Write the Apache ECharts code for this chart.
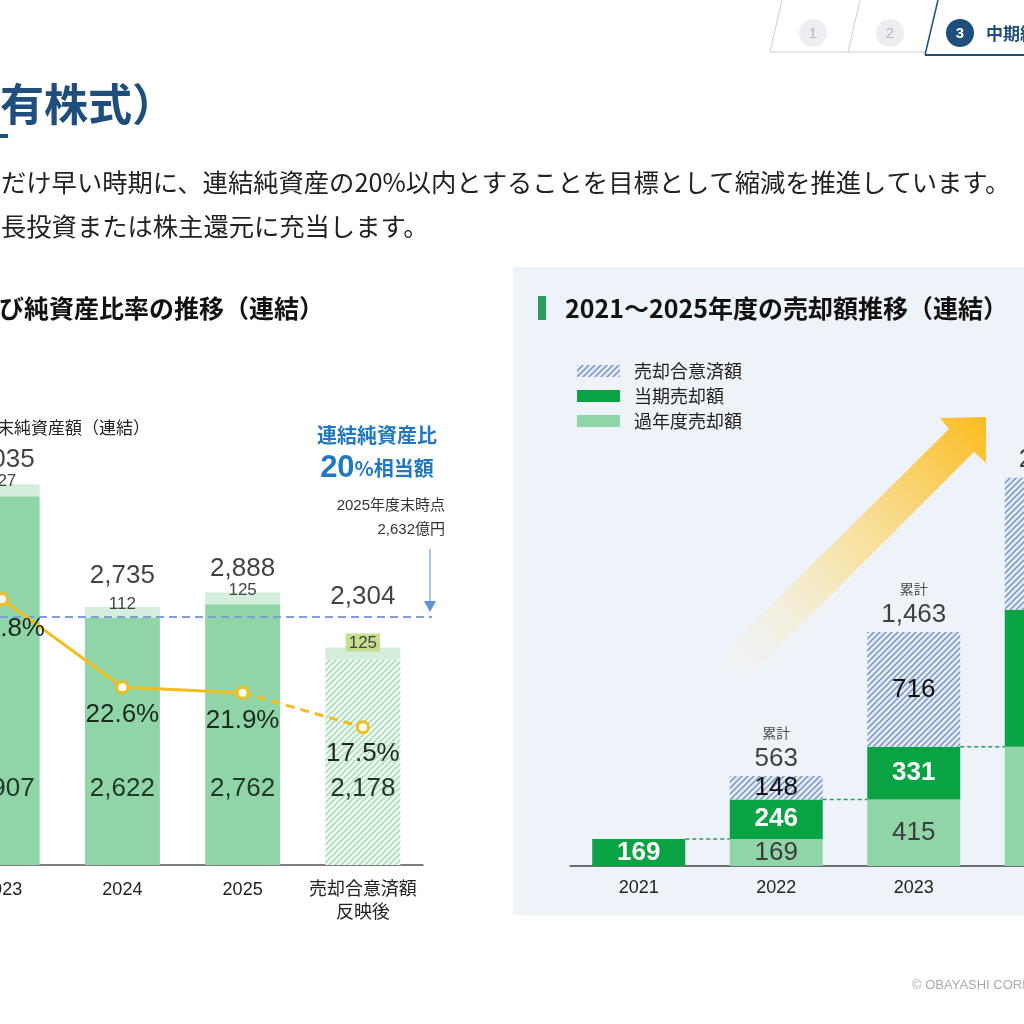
<!DOCTYPE html>
<html>
<head>
<meta charset="utf-8">
<script src="https://cdn.jsdelivr.net/npm/echarts@6/dist/echarts.min.js"></script>
</head>
<body style="margin:0;background:#fff">
<div id="container" style="width:1024px;height:1024px"></div>
<script>
// left chart: holdings (100M yen) and ratio to net assets
var leftCats = ['2023', '2024', '2025', '売却合意済額\n反映後'];
var heldBase = [3907, 2622, 2762, 2178];
var heldTop = [127, 112, 125, 125];
var heldTotal = [4035, 2735, 2888, 2304];
var ratio = [33.8, 22.6, 21.9, 17.5];
var targetLine = 2632;

// right chart: sales 2021-2025
var rightCats = ['2021', '2022', '2023', '2024', '2025'];
var pastSold = ['-', 169, 415, 746, '-'];
var currSold = [169, 246, 331, 856, '-'];
var agreed = ['-', 148, 716, 825, '-'];
var cumTotal = ['-', 563, 1463, 2427, '-'];

var NUM_FONT = "'Liberation Sans', 'Noto Sans CJK JP', sans-serif";
var JP_FONT = "'Noto Sans CJK JP', sans-serif";
var NAVY = '#1f4e7c';

function stripes(bg, fg, size, lw) {
    var c = document.createElement('canvas');
    c.width = size; c.height = size;
    var ctx = c.getContext('2d');
    ctx.fillStyle = bg;
    ctx.fillRect(0, 0, size, size);
    ctx.strokeStyle = fg;
    ctx.lineWidth = lw;
    ctx.beginPath();
    ctx.moveTo(0, size); ctx.lineTo(size, 0);
    ctx.moveTo(-size / 2, size / 2); ctx.lineTo(size / 2, -size / 2);
    ctx.moveTo(size / 2, size * 1.5); ctx.lineTo(size * 1.5, size / 2);
    ctx.stroke();
    return c;
}
var blueHatch = stripes('#e8eef8', '#7e9dcb', 6, 1.6);
var greenHatch = stripes('#f1f9f3', '#a3dbb5', 6, 1.5);

function fmt(v) {
    return Number(v).toLocaleString('en-US');
}

// running sold amount = past + current, used for the dashed connectors
var connectors = [];
for (var i = 0; i < rightCats.length - 1; i++) {
    if (currSold[i] !== '-' && pastSold[i + 1] !== '-') {
        var p = pastSold[i] === '-' ? 0 : pastSold[i];
        connectors.push([i, p + currSold[i]]);
    }
}

var totalDist = [11, 17, 10, 37];

var dom = document.getElementById('container');
var myChart = echarts.init(dom);

function txt(s, x, y, size, color, extra) {
    var st = {
        text: s, x: x, y: y, fontSize: size, fill: color, fontFamily: JP_FONT,
        verticalAlign: 'middle', textVerticalAlign: 'middle'
    };
    for (var k in extra) { st[k] = extra[k]; }
    if (st.align) { st.textAlign = st.align; }
    return { type: 'text', style: st };
}

var option = {
    backgroundColor: '#ffffff',
    animation: false,
    textStyle: { fontFamily: NUM_FONT },
    grid: [
        { left: -58, top: 393, width: 481, height: 472, outerBoundsMode: 'none', containLabel: false },
        { left: 570, top: 386, width: 687.5, height: 480, outerBoundsMode: 'none', containLabel: false }
    ],
    legend: {
        data: ['売却合意済額', '当期売却額', '過年度売却額'],
        orient: 'vertical',
        left: 572,
        top: 357,
        itemWidth: 43,
        itemHeight: 12,
        itemGap: 7,
        icon: 'rect',
        selectedMode: false,
        textStyle: { fontSize: 18, color: '#222', fontFamily: JP_FONT, padding: [0, 0, 0, 9] }
    },
    xAxis: [
        {
            type: 'category', gridIndex: 0, data: leftCats,
            axisLine: { lineStyle: { color: '#555', width: 1.5 } },
            axisTick: { show: false },
            axisLabel: { interval: 0, fontSize: 18, color: '#222', margin: 14, lineHeight: 23 }
        },
        {
            type: 'category', gridIndex: 1, data: rightCats,
            axisLine: { lineStyle: { color: '#444', width: 1.5 } },
            axisTick: { show: false },
            axisLabel: { interval: 0, fontSize: 18, color: '#222', margin: 13 }
        }
    ],
    yAxis: [
        { type: 'value', gridIndex: 0, min: 0, max: 5000, show: false },
        { type: 'value', gridIndex: 0, min: 0, max: 60, show: false },
        { type: 'value', gridIndex: 1, min: 0, max: 3000, show: false }
    ],
    series: [
        {
            type: 'bar', name: '保有額', xAxisIndex: 0, yAxisIndex: 0, stack: 'L', barWidth: 75,
            data: heldBase.map(function (v, i) {
                return i === 3 ? { value: v, itemStyle: { color: { image: greenHatch, repeat: 'repeat' } } } : v;
            }),
            itemStyle: { color: '#8fd5a8' },
            label: {
                show: true, position: 'insideBottom', distance: 63, fontSize: 26, color: '#22392a',
                formatter: function (p) { return fmt(p.value); }
            },
            markLine: {
                silent: true, symbol: 'none',
                lineStyle: { color: '#7f9fd6', width: 2, type: [8, 5] },
                label: { show: false },
                data: [[{ x: 0, yAxis: targetLine }, { x: 432, yAxis: targetLine }]]
            }
        },
        {
            type: 'bar', name: '上乗せ', xAxisIndex: 0, yAxisIndex: 0, stack: 'L', barWidth: 75,
            data: heldTop.map(function (v, i) {
                return i === 3 ? {
                    value: v,
                    label: { backgroundColor: '#c6df8c', padding: [1, 3, 0, 3], distance: -4 }
                } : v;
            }),
            itemStyle: { color: '#d3efdc' },
            label: { show: true, position: 'top', distance: -6, fontSize: 17, color: '#444' }
        },
        {
            type: 'scatter', xAxisIndex: 0, yAxisIndex: 0, symbolSize: 1,
            itemStyle: { color: 'rgba(0,0,0,0)' },
            data: heldTotal.map(function (v, i) {
                return { value: v, label: { distance: totalDist[i] } };
            }),
            label: {
                show: true, position: 'top', fontSize: 26, color: '#111',
                formatter: function (p) { return fmt(p.value); }
            },
            z: 5
        },
        {
            type: 'line', xAxisIndex: 0, yAxisIndex: 1,
            data: [{ value: ratio[0], label: { offset: [6, 2] } }, ratio[1], ratio[2], '-'],
            lineStyle: { color: '#f3bd1e', width: 3 },
            symbol: 'circle', symbolSize: 11,
            itemStyle: { color: '#fff', borderColor: '#f3bd1e', borderWidth: 3 },
            label: {
                show: true, position: 'bottom', distance: 8, fontSize: 26, color: '#1c2a20',
                formatter: function (p) { return p.value.toFixed(1) + '%'; }
            },
            z: 6
        },
        {
            type: 'line', xAxisIndex: 0, yAxisIndex: 1,
            data: ['-', '-', { value: ratio[2], label: { show: false } }, ratio[3]],
            lineStyle: { color: '#f3bd1e', width: 3, type: [9, 6] },
            symbol: 'circle', symbolSize: 11,
            itemStyle: { color: '#fff', borderColor: '#f3bd1e', borderWidth: 3 },
            label: {
                show: true, position: 'bottom', distance: 6, fontSize: 26, color: '#1c2a20',
                formatter: function (p) { return p.value.toFixed(1) + '%'; }
            },
            z: 6
        },
        {
            type: 'bar', name: '過年度売却額', xAxisIndex: 1, yAxisIndex: 2, stack: 'R', barWidth: 93,
            data: pastSold,
            itemStyle: { color: '#8fd5a8' },
            label: { show: true, position: 'inside', fontSize: 26, color: '#3d3d3d' }
        },
        {
            type: 'bar', name: '当期売却額', xAxisIndex: 1, yAxisIndex: 2, stack: 'R', barWidth: 93,
            data: currSold,
            itemStyle: { color: '#0aa344' },
            label: { show: true, position: 'inside', fontSize: 26, color: '#fff', fontWeight: 'bold' }
        },
        {
            type: 'bar', name: '売却合意済額', xAxisIndex: 1, yAxisIndex: 2, stack: 'R', barWidth: 93,
            data: agreed,
            itemStyle: { color: { image: blueHatch, repeat: 'repeat' } },
            label: { show: true, position: 'inside', fontSize: 26, color: '#111' }
        },
        {
            type: 'scatter', xAxisIndex: 1, yAxisIndex: 2, symbolSize: 1,
            itemStyle: { color: 'rgba(0,0,0,0)' },
            data: cumTotal,
            label: {
                show: true, position: 'top', distance: 3,
                formatter: function (p) { return '{s|累計}\n{n|' + fmt(p.value) + '}'; },
                rich: {
                    s: { fontSize: 14, lineHeight: 24, color: '#222', fontFamily: JP_FONT },
                    n: { fontSize: 26, lineHeight: 28, color: '#111' }
                }
            },
            z: 5
        },
        {
            type: 'custom', xAxisIndex: 1, yAxisIndex: 2,
            data: connectors,
            renderItem: function (params, api) {
                var pt = api.coord([api.value(0), api.value(1)]);
                var band = api.size([1, 0])[0];
                var half = 93 / 2;
                return {
                    type: 'line',
                    shape: { x1: pt[0] + half, y1: pt[1], x2: pt[0] + band - half, y2: pt[1] },
                    style: { stroke: '#2a9d5c', lineWidth: 1.5, lineDash: [4, 3] }
                };
            },
            z: 4
        }
    ],
    graphic: [
        // right panel background
        { type: 'rect', z: -10, shape: { x: 513, y: 267, width: 520, height: 648 }, style: { fill: '#eef3fa' } },
        // big yellow arrow
        {
            type: 'polygon', z: -5,
            shape: { points: [[940, 418], [986, 417], [986, 463], [974, 452], [745, 681], [720, 656], [949, 429]] },
            style: {
                fill: {
                    type: 'linear', x: 0, y: 1, x2: 1, y2: 0,
                    colorStops: [
                        { offset: 0, color: 'rgba(255,240,205,0)' },
                        { offset: 0.45, color: 'rgba(253,220,130,0.6)' },
                        { offset: 1, color: '#fbbb1c' }
                    ]
                }
            }
        },
        // page tabs
        { type: 'line', shape: { x1: 782, y1: 0, x2: 770, y2: 52 }, style: { stroke: '#c9ced6', lineWidth: 1 } },
        { type: 'line', shape: { x1: 860, y1: 0, x2: 848, y2: 52 }, style: { stroke: '#c9ced6', lineWidth: 1 } },
        { type: 'line', shape: { x1: 770, y1: 52, x2: 926, y2: 52 }, style: { stroke: '#c9ced6', lineWidth: 1 } },
        { type: 'line', shape: { x1: 938, y1: 0, x2: 925, y2: 55 }, style: { stroke: NAVY, lineWidth: 1.5 } },
        { type: 'line', shape: { x1: 925, y1: 55, x2: 1024, y2: 55 }, style: { stroke: NAVY, lineWidth: 2 } },
        { type: 'circle', shape: { cx: 813, cy: 33, r: 14 }, style: { fill: '#eceef2' } },
        { type: 'circle', shape: { cx: 890, cy: 33, r: 14 }, style: { fill: '#eceef2' } },
        { type: 'circle', shape: { cx: 960, cy: 33, r: 14 }, style: { fill: NAVY } },
        txt('1', 813, 34, 15, '#b5bac2', { align: 'center', fontFamily: NUM_FONT }),
        txt('2', 890, 34, 15, '#b5bac2', { align: 'center', fontFamily: NUM_FONT }),
        txt('3', 960, 34, 15, '#fff', { align: 'center', fontFamily: NUM_FONT, fontWeight: 'bold' }),
        txt('中期経営計画', 986, 34, 17, NAVY, { fontWeight: 'bold' }),
        // page title and body text
        txt('政策保有株式）', 176, 104, 44, NAVY, { align: 'right', fontWeight: 'bold' }),
        { type: 'rect', shape: { x: 0, y: 134, width: 8, height: 4 }, style: { fill: NAVY } },
        txt('だけ早い時期に、連結純資産の20%以内とすることを目標として縮減を推進しています。', 1, 182, 25.3, '#222'),
        txt('長投資または株主還元に充当します。', 1, 226, 25.3, '#222'),
        // left chart heading and notes
        txt('政策保有株式残高及び純資産比率の推移（連結）', 324, 308, 25, '#111', { align: 'right', fontWeight: 'bold' }),
        txt('（億円）', 6, 372, 17, '#222', { align: 'right' }),
        txt('年度末純資産額（連結）', 150, 428, 17, '#222', { align: 'right' }),
        txt('連結純資産比', 377, 435, 20, '#1f78c1', { align: 'center', fontWeight: 'bold' }),
        {
            type: 'text', style: {
                text: '{a|20}{b|%相当額}', x: 377, y: 468, align: 'center', verticalAlign: 'middle', textAlign: 'center', textVerticalAlign: 'middle',
                rich: {
                    a: { fontSize: 31, fontWeight: 'bold', fill: '#1f78c1', fontFamily: NUM_FONT },
                    b: { fontSize: 20, fontWeight: 'bold', fill: '#1f78c1', fontFamily: JP_FONT }
                }
            }
        },
        txt('2025年度末時点', 445, 506, 15, '#333', { align: 'right', fontFamily: NUM_FONT }),
        txt('2,632億円', 445, 530, 15, '#333', { align: 'right', fontFamily: NUM_FONT }),
        { type: 'line', shape: { x1: 430, y1: 549, x2: 430, y2: 603 }, style: { stroke: '#6a9fd8', lineWidth: 1.2 } },
        { type: 'polygon', shape: { points: [[424, 601], [436, 601], [430, 612]] }, style: { fill: '#5b95d5' } },
        // right chart heading
        { type: 'rect', shape: { x: 538, y: 296, width: 8, height: 24 }, style: { fill: '#2a9d5c' } },
        txt('2021～2025年度の売却額推移（連結）', 565, 308, 25, '#111', { fontWeight: 'bold' }),
        // footer
        txt('© OBAYASHI CORPORATION', 912, 985, 13, '#aaa', { fontFamily: NUM_FONT })
    ]
};

myChart.setOption(option);
</script>
</body>
</html>
